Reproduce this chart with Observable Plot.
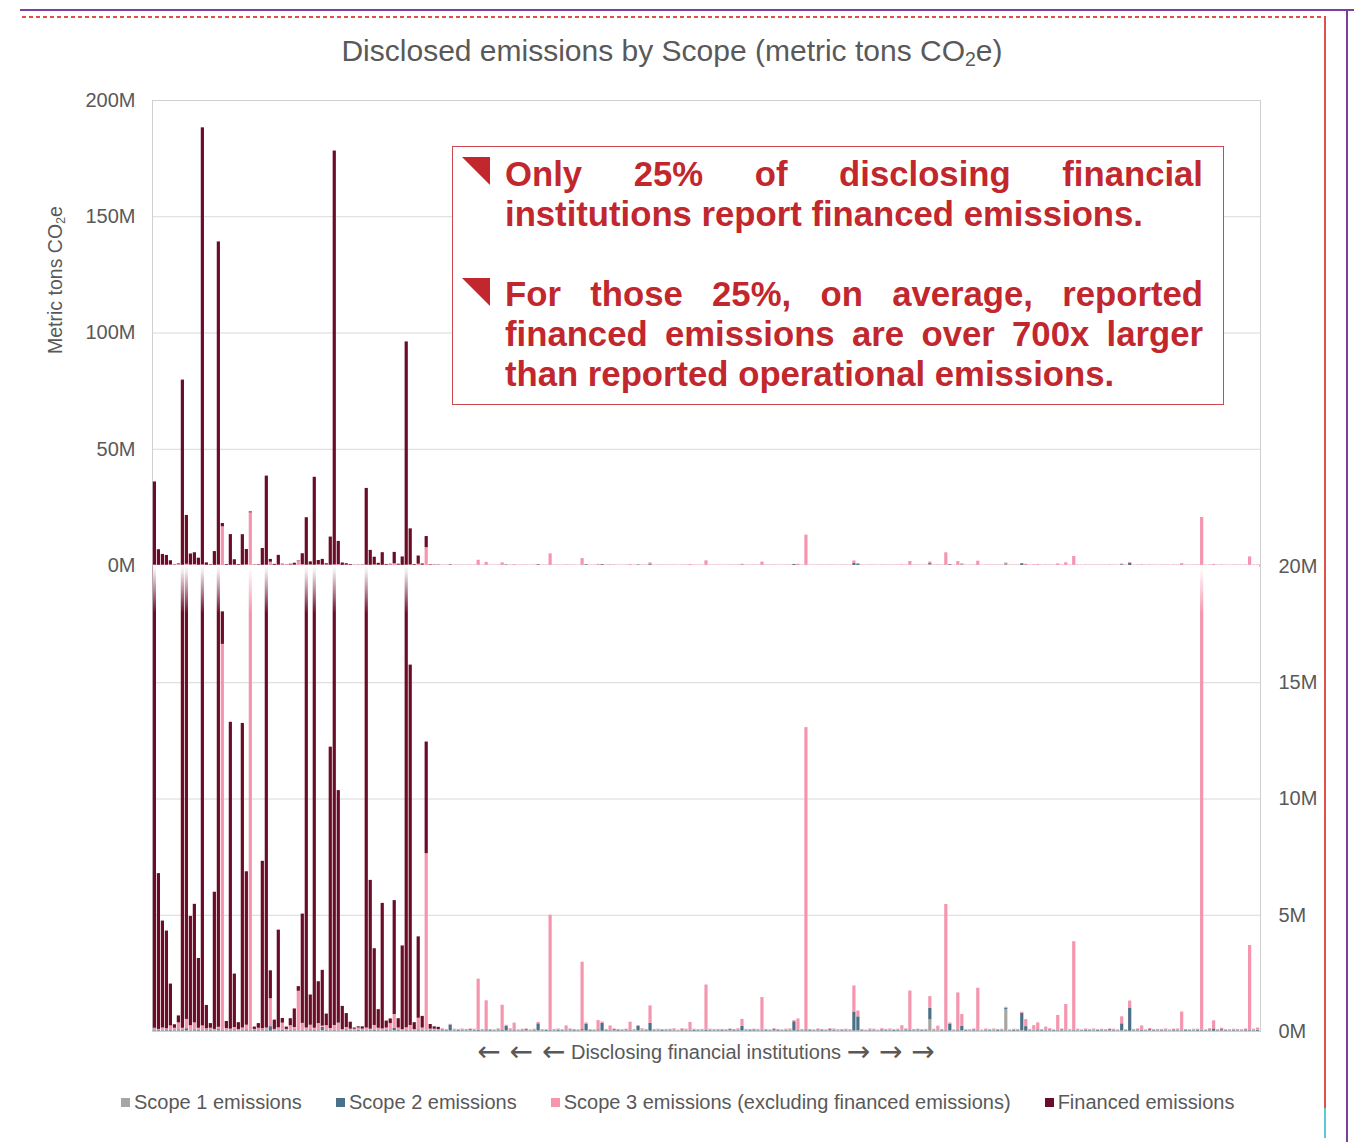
<!DOCTYPE html>
<html>
<head>
<meta charset="utf-8">
<script src="https://cdn.jsdelivr.net/npm/d3@7"></script>
<script src="https://cdn.jsdelivr.net/npm/@observablehq/plot@0.6"></script>
<style>
  body { margin: 0; background: #fff; font-family: "Liberation Sans", Arial, sans-serif; }
  #root { position: relative; width: 1354px; height: 1142px; overflow: hidden; background: #fff; }
  .abs { position: absolute; }
  #title { left: 0; top: 32px; width: 1344px; text-align: center; font-size: 30px; line-height: 38px; color: #595959; white-space: nowrap; }
  sub { font-size: 0.65em; vertical-align: -0.25em; line-height: 0; }
  #ylab { left: 55px; top: 280px; transform: translate(-50%, -50%) rotate(-90deg); white-space: nowrap; font-size: 19.5px; color: #595959; }
  #xlab { left: 0; top: 1040px; width: 1412px; text-align: center; font-size: 20px; color: #595959; white-space: nowrap; line-height: 24px; }
  #xlab .ar { font-family: "DejaVu Sans", sans-serif; font-size: 28px; line-height: 20px; vertical-align: -2px; }
  #note { left: 452px; top: 146px; width: 770px; height: 257px; border: 1.5px solid #cc4a4d; background: #fff; }
  .para { left: 505px; width: 698px; font-size: 34.7px; line-height: 40px; font-weight: bold; color: #c1272d; white-space: nowrap; }
  .jl { text-align: justify; text-align-last: justify; white-space: normal; }
  .tri { width: 28px; height: 28px; fill: #c1272d; }
  .lg-swatches { font-family: "Liberation Sans", Arial, sans-serif !important; font-size: 20px !important; color: #595959; margin: 0 !important; }
  .lg-swatch { margin-right: 34px !important; }
  .lg-swatch > svg { margin-right: 4px !important; }
</style>
</head>
<body>
<div id="root">
  <div class="abs" style="left:20px;top:9px;width:1334px;height:2px;background:#7b3f9e"></div>
  <div class="abs" style="left:22px;top:16px;width:1303px;height:2px;background:repeating-linear-gradient(to right,#e0504a 0 4px,transparent 4px 7px)"></div>
  <div class="abs" style="left:1324px;top:16px;width:2px;height:1092px;background:#e0504a"></div>
  <div class="abs" style="left:1324px;top:1108px;width:2px;height:30px;background:#5bc8d8"></div>
  <div class="abs" style="left:1346px;top:9px;width:2px;height:1133px;background:#7b3f9e"></div>
  <div id="title" class="abs">Disclosed emissions by Scope (metric tons CO<sub>2</sub>e)</div>
  <div id="ylab" class="abs">Metric tons CO<sub>2</sub>e</div>
  <div id="xlab" class="abs"><span class="ar">← ← ←</span> Disclosing financial institutions <span class="ar">→ → →</span></div>
</div>
<script>
// Values in millions of metric tons CO2e, one entry per disclosing institution (left to right)
const scope1 = [
  0.02,0.01,0.03,0.02,0.01,0.02,0.03,0.01,0.02,0.03,0.02,0.01,0.02,0.03,0.01,0.02,0.03,0.02,0.01,0.02,
  0.03,0.01,0.02,0.02,0.03,0.01,0.02,0.03,0.02,0.01,0.02,0.03,0.01,0.02,0.02,0.03,0.01,0.02,0.03,0.02,
  0.01,0.02,0.03,0.02,0.01,0.02,0.03,0.01,0.02,0.02,0.03,0.01,0.02,0.03,0.02,0.01,0.02,0.03,0.01,0.02,
  0.03,0.02,0.01,0.02,0.03,0.01,0.02,0.02,0.03,0.01,0.02,0.03,0.02,0.01,0.02,0.03,0.01,0.02,0.02,0.03,
  0.02,0.01,0.03,0.02,0.01,0.02,0.03,0.01,0.02,0.03,0.02,0.01,0.02,0.03,0.01,0.02,0.03,0.02,0.01,0.02,
  0.03,0.01,0.02,0.02,0.03,0.01,0.02,0.03,0.02,0.01,0.02,0.03,0.01,0.02,0.02,0.03,0.01,0.02,0.03,0.02,
  0.01,0.02,0.03,0.02,0.01,0.02,0.03,0.01,0.02,0.02,0.03,0.01,0.02,0.03,0.02,0.01,0.02,0.03,0.01,0.02,
  0.03,0.02,0.01,0.02,0.03,0.01,0.02,0.02,0.03,0.01,0.02,0.03,0.02,0.01,0.02,0.03,0.01,0.02,0.02,0.03,
  0.02,0.01,0.03,0.02,0.01,0.02,0.03,0.01,0.02,0.03,0.02,0.01,0.02,0.03,0.01,0.02,0.03,0.02,0.01,0.02,
  0.03,0.01,0.02,0.02,0.03,0.01,0.02,0.03,0.02,0.01,0.02,0.03,0.01,0.02,0.5,0.03,0.01,0.02,0.03,0.02,
  0.01,0.02,0.03,0.02,0.01,0.02,0.03,0.01,0.02,0.02,0.03,0.01,0.02,0.95,0.02,0.01,0.02,0.03,0.01,0.02,
  0.03,0.02,0.01,0.02,0.03,0.01,0.02,0.02,0.03,0.01,0.02,0.03,0.02,0.01,0.02,0.03,0.01,0.02,0.02,0.03,
  0.02,0.01,0.03,0.02,0.01,0.02,0.03,0.01,0.02,0.03,0.02,0.01,0.02,0.03,0.01,0.02,0.03,0.02,0.01,0.02,
  0.03,0.01,0.02,0.02,0.03,0.01,0.02,0.03,0.02,0.01,0.02,0.03,0.01,0.02,0.02,0.03,0.01
];
const scope2 = [
  0.02,0.03,0.02,0.05,0.03,0.02,0.04,0.03,0.1,0.02,0.05,0.03,0.02,0.04,0.03,0.02,0.05,0.03,0.02,0.03,
  0.04,0.02,0.03,0.05,0.02,0.03,0.02,0.04,0.03,0.2,0.02,0.03,0.05,0.02,0.03,0.04,0.02,0.03,0.02,0.05,
  0.03,0.02,0.15,0.03,0.02,0.04,0.03,0.02,0.05,0.03,0.02,0.04,0.03,0.02,0.03,0.05,0.02,0.03,0.04,0.02,
  0.1,0.03,0.02,0.04,0.03,0.02,0.05,0.03,0.02,0.04,0.03,0.02,0.05,0.03,0.26,0.02,0.04,0.03,0.02,0.05,
  0.03,0.04,0.02,0.05,0.03,0.02,0.04,0.05,0.2,0.03,0.04,0.02,0.03,0.05,0.02,0.03,0.3,0.02,0.04,0.03,
  0.02,0.05,0.03,0.02,0.04,0.03,0.02,0.05,0.3,0.03,0.02,0.04,0.35,0.03,0.02,0.05,0.03,0.02,0.04,0.03,
  0.02,0.2,0.03,0.04,0.34,0.02,0.03,0.05,0.02,0.04,0.03,0.02,0.05,0.03,0.02,0.04,0.03,0.02,0.05,0.03,
  0.02,0.04,0.03,0.02,0.05,0.03,0.04,0.2,0.02,0.03,0.05,0.02,0.04,0.03,0.02,0.05,0.03,0.02,0.04,0.03,
  0.4,0.03,0.02,0.05,0.03,0.02,0.04,0.03,0.02,0.05,0.03,0.02,0.04,0.03,0.02,0.82,0.6,0.03,0.02,0.04,
  0.03,0.02,0.05,0.03,0.02,0.04,0.03,0.02,0.05,0.03,0.02,0.04,0.03,0.02,0.5,0.03,0.02,0.04,0.03,0.3,
  0.02,0.04,0.2,0.03,0.02,0.05,0.03,0.02,0.04,0.03,0.02,0.05,0.03,0.05,0.02,0.04,0.03,0.75,0.2,0.03,
  0.02,0.05,0.03,0.02,0.04,0.03,0.02,0.05,0.03,0.02,0.04,0.03,0.02,0.05,0.03,0.02,0.04,0.03,0.02,0.05,
  0.03,0.02,0.3,0.03,1.0,0.02,0.04,0.03,0.02,0.05,0.03,0.02,0.04,0.03,0.02,0.05,0.03,0.02,0.04,0.03,
  0.02,0.05,0.03,0.02,0.04,0.1,0.02,0.05,0.03,0.02,0.04,0.03,0.02,0.05,0.03,0.02,0.04
];
const scope3 = [
  0.1,0.05,0.1,0.05,0.2,0.1,0.3,0.1,0.4,0.2,0.3,0.1,0.2,0.05,0.1,0.05,0.1,16.6,0.1,0.05,
  0.1,0.05,0.1,0.2,22.6,0.05,0.1,0.05,0.1,1.2,0.05,0.1,0.3,0.05,0.2,0.1,1.7,0.3,0.1,0.2,
  0.1,0.3,0.05,0.2,0.1,0.2,0.3,0.05,0.1,0.05,0.05,0.1,0.05,0.1,0.05,0.2,0.1,0.05,0.1,0.3,
  0.6,0.1,0.05,0.1,0.2,0.05,0.5,0.1,7.6,0.05,0.05,0.03,0.05,0.04,0.03,0.05,0.04,0.06,0.05,0.03,
  0.05,2.2,0.04,1.25,0.05,0.03,0.04,1.07,0.05,0.06,0.3,0.04,0.05,0.03,0.04,0.05,0.06,0.04,0.03,4.95,
  0.04,0.05,0.03,0.2,0.04,0.05,0.03,2.9,0.05,0.04,0.03,0.4,0.05,0.04,0.2,0.03,0.05,0.04,0.03,0.35,
  0.05,0.04,0.06,0.03,0.75,0.05,0.04,0.03,0.05,0.04,0.06,0.03,0.05,0.04,0.35,0.05,0.03,0.04,1.94,0.05,
  0.04,0.03,0.05,0.04,0.03,0.05,0.06,0.3,0.04,0.05,0.03,0.04,1.4,0.05,0.03,0.04,0.05,0.03,0.04,0.05,
  0.05,0.5,0.04,13.0,0.05,0.03,0.04,0.05,0.03,0.04,0.06,0.05,0.03,0.04,0.05,1.12,0.25,0.04,0.03,0.05,
  0.04,0.03,0.05,0.04,0.06,0.03,0.05,0.2,0.04,1.7,0.05,0.03,0.04,0.05,0.5,0.04,0.2,0.03,5.4,0.05,
  0.04,1.6,0.5,0.03,0.05,0.04,1.8,0.03,0.05,0.04,0.06,0.03,0.05,0.04,0.03,0.05,0.04,0.05,0.3,0.04,
  0.2,0.3,0.04,0.15,0.05,0.03,0.65,0.04,1.1,0.05,3.8,0.04,0.03,0.05,0.04,0.06,0.03,0.05,0.04,0.03,
  0.05,0.04,0.3,0.03,0.3,0.05,0.04,0.2,0.03,0.05,0.04,0.06,0.03,0.05,0.04,0.03,0.05,0.8,0.04,0.03,
  0.05,0.04,20.6,0.03,0.05,0.35,0.04,0.06,0.03,0.05,0.04,0.03,0.05,0.04,3.65,0.05,0.1
];
const financed = [
  35.8,6.7,4.6,4.2,1.8,0.15,0.3,79.6,21,4.7,5.1,3.0,188,1.0,0.2,5.9,139,1.4,0.3,13.2,
  2.3,0.3,13.1,6.6,0.4,0.1,0.2,7.2,38.3,1.2,0.4,4.2,0.2,0.1,0.3,0.8,0.2,4.7,20.4,1.3,
  37.8,1.8,2.4,0.5,12.1,178,10.0,1.0,0.6,0.3,0.05,0.05,0.1,33,6.4,3.3,0.8,5.4,0.3,0.2,
  4.9,0.4,3.6,96,15.5,0.3,3.5,0.5,4.8,0.2,0.1,0.1,0,0,0,0,0,0,0,0,
  0,0,0,0,0,0,0,0,0,0,0,0,0,0,0,0,0,0,0,0,
  0,0,0,0,0,0,0,0,0,0,0,0,0,0,0,0,0,0,0,0,
  0,0,0,0,0,0,0,0,0,0,0,0,0,0,0,0,0,0,0,0,
  0,0,0,0,0,0,0,0,0,0,0,0,0,0,0,0,0,0,0,0,
  0,0,0,0,0,0,0,0,0,0,0,0,0,0,0,0,0,0,0,0,
  0,0,0,0,0,0,0,0,0,0,0,0,0,0,0,0,0,0,0,0,
  0,0,0,0,0,0,0,0,0,0,0,0,0,0,0,0,0,0,0,0,
  0,0,0,0,0,0,0,0,0,0,0,0,0,0,0,0,0,0,0,0,
  0,0,0,0,0,0,0,0,0,0,0,0,0,0,0,0,0,0,0,0,
  0,0,0,0,0,0,0,0,0,0,0,0,0,0,0,0,0
];
const series = ["Scope 1 emissions", "Scope 2 emissions", "Scope 3 emissions (excluding financed emissions)", "Financed emissions"];
const colors = ["#a6a6a2", "#4b7186", "#f596ae", "#6b0c28"];
const topTicks = [0, 50, 100, 150, 200];
const bottomTicks = [0, 5, 10, 15, 20];

const institutions = scope3.map((_, i) => i);
const rows = [];
[scope1, scope2, scope3, financed].forEach((arr, k) =>
  arr.forEach((v, i) => rows.push({inst: i, series: series[k], value: v})));

const root = document.getElementById("root");
const fmt = d => d + "M";
const common = {
  width: 1354, height: 495, marginLeft: 152, marginRight: 94, marginTop: 20, marginBottom: 10,
  x: {domain: institutions, padding: 0.2, axis: null},
  color: {domain: series, range: colors},
  style: {background: "transparent", fontFamily: "Liberation Sans, Arial, sans-serif", fontSize: "20px", color: "#595959", overflow: "visible"}
};

const topPlot = Plot.plot({
  ...common,
  y: {domain: [0, 200]},
  marks: [
    Plot.gridY(topTicks.slice(1, -1), {stroke: "#d9d9d9", strokeOpacity: 1}),
    Plot.frame({stroke: "#cfcfcf"}),
    Plot.ruleY([0], {stroke: colors[2], strokeWidth: 1.5}),
    Plot.barY(rows, {x: "inst", y: "value", z: "series", fill: "series"}),
    Plot.axisY(topTicks, {anchor: "left", tickSize: 0, tickPadding: 17, tickFormat: fmt, label: null})
  ]
});
topPlot.style.position = "absolute";
topPlot.style.left = "0px";
topPlot.style.top = "80px";
root.appendChild(topPlot);

const fade = (index, scales, values, dim) => {
  const g = d3.create("svg:g");
  const lg = g.append("defs").append("linearGradient")
    .attr("id", "fadeTop").attr("x1", 0).attr("x2", 0).attr("y1", 0).attr("y2", 1);
  lg.append("stop").attr("offset", 0).attr("stop-color", "#fff").attr("stop-opacity", 1);
  lg.append("stop").attr("offset", 0.15).attr("stop-color", "#fff").attr("stop-opacity", 0.9);
  lg.append("stop").attr("offset", 1).attr("stop-color", "#fff").attr("stop-opacity", 0);
  g.append("rect")
    .attr("x", dim.marginLeft + 1).attr("y", dim.marginTop - 1)
    .attr("width", dim.width - dim.marginLeft - dim.marginRight - 2).attr("height", 48)
    .attr("fill", "url(#fadeTop)");
  return g.node();
};

const bottomPlot = Plot.plot({
  ...common,
  y: {domain: [0, 20]},
  marks: [
    Plot.gridY(bottomTicks.slice(1, -1), {stroke: "#d9d9d9", strokeOpacity: 1}),
    Plot.frame({stroke: "#cfcfcf"}),
    Plot.barY(rows, {x: "inst", y: "value", z: "series", fill: "series", clip: true}),
    fade,
    Plot.axisY(bottomTicks, {anchor: "right", tickSize: 0, tickPadding: 18, tickFormat: fmt, label: null})
  ]
});
bottomPlot.style.position = "absolute";
bottomPlot.style.left = "0px";
bottomPlot.style.top = "546px";
root.appendChild(bottomPlot);

// Annotation box
const note = document.createElement("div");
note.className = "abs"; note.id = "note";
root.appendChild(note);
const tri = (top) => {
  const s = document.createElementNS("http://www.w3.org/2000/svg", "svg");
  s.setAttribute("class", "abs tri");
  s.style.left = "462px"; s.style.top = top + "px";
  s.innerHTML = '<polygon points="0,0 28,0 28,28"/>';
  root.appendChild(s);
};
tri(157); tri(278);
const para = (top, lines) => {
  const p = document.createElement("div");
  p.className = "abs para"; p.style.top = top + "px";
  lines.forEach(([t, j]) => {
    const d = document.createElement("div");
    if (j) d.className = "jl";
    d.textContent = t;
    p.appendChild(d);
  });
  root.appendChild(p);
};
para(154, [["Only 25% of disclosing financial", true], ["institutions report financed emissions.", false]]);
para(274, [["For those 25%, on average, reported", true], ["financed emissions are over 700x larger", true], ["than reported operational emissions.", false]]);

// Legend
const legend = Plot.legend({color: {type: "categorical", domain: series, range: colors}, swatchSize: 9, className: "lg"});
legend.style.position = "absolute";
legend.style.left = "121px";
legend.style.top = "1086px";
root.appendChild(legend);
</script>
</body>
</html>
